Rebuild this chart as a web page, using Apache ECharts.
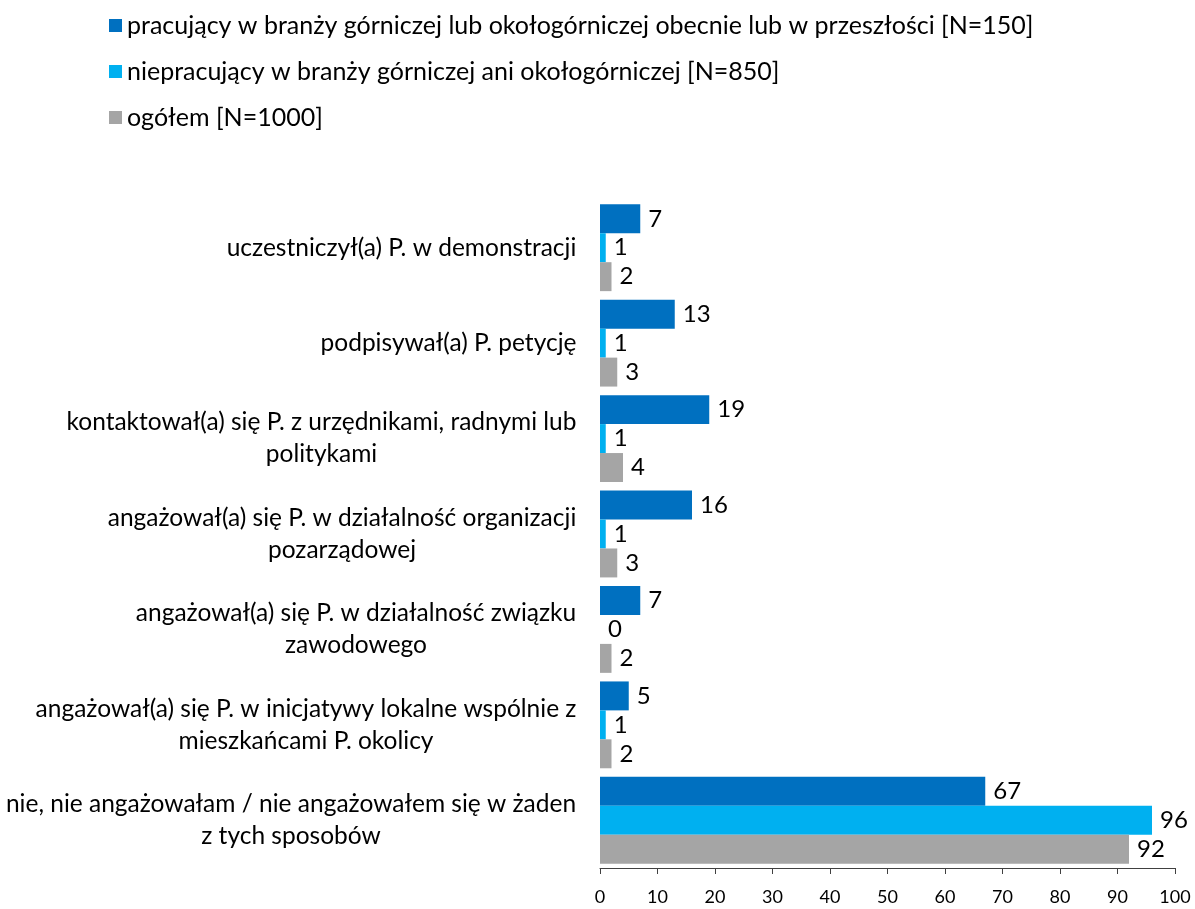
<!DOCTYPE html>
<html>
<head>
<meta charset="utf-8">
<script src="https://cdn.jsdelivr.net/npm/echarts@6/dist/echarts.min.js"></script>
<style>
  html, body { margin: 0; padding: 0; background: #fff; }
  #chart { width: 1195px; height: 909px; }
</style>
</head>
<body>
<div id="chart"></div>
<script>
// Forms of civic engagement, percentages by group
const categories = [
  'uczestniczył(a) P. w demonstracji',
  'podpisywał(a) P. petycję',
  'kontaktował(a) się P. z urzędnikami, radnymi lub\npolitykami',
  'angażował(a) się P. w działalność organizacji\npozarządowej',
  'angażował(a) się P. w działalność związku\nzawodowego',
  'angażował(a) się P. w inicjatywy lokalne wspólnie z\nmieszkańcami P. okolicy',
  'nie, nie angażowałam / nie angażowałem się w żaden\nz tych sposobów'
];
const seriesNames = [
  'pracujący w branży górniczej lub okołogórniczej obecnie lub w przeszłości [N=150]',
  'niepracujący w branży górniczej ani okołogórniczej [N=850]',
  'ogółem [N=1000]'
];
const miningWorkers = [7, 13, 19, 16, 7, 5, 67];
const nonMiningWorkers = [1, 1, 1, 1, 0, 1, 96];
const overall = [2, 3, 4, 3, 2, 2, 92];
const xTicks = [0, 10, 20, 30, 40, 50, 60, 70, 80, 90, 100];

const colors = ['#0070C0', '#00B0F0', '#A5A5A5'];
const FONT = 'Lato, "Open Sans", sans-serif';
const LABEL_SIZE = 24.5;

// Multi-line category labels: lines centred on each other, block right-aligned
const measureCtx = document.createElement('canvas').getContext('2d');
measureCtx.font = LABEL_SIZE + 'px ' + FONT;
const rich = {};
categories.forEach((c, i) => {
  const w = Math.max(...c.split('\n').map(l => measureCtx.measureText(l).width));
  rich['c' + i] = {
    width: Math.ceil(w) + 1,
    align: 'center',
    fontSize: LABEL_SIZE,
    lineHeight: 32,
    fontFamily: FONT,
    color: '#000'
  };
});

const chart = echarts.init(document.getElementById('chart'), null, { renderer: 'canvas' });

const valueLabel = {
  show: true,
  position: 'right',
  distance: 8,
  color: '#000',
  fontSize: 24,
  fontFamily: FONT
};

const dataSets = [miningWorkers, nonMiningWorkers, overall];

chart.setOption({
  animation: false,
  color: colors,
  legend: {
    orient: 'vertical',
    left: 104,
    top: 8,
    itemWidth: 13,
    itemHeight: 13,
    itemGap: 21,
    icon: 'rect',
    textStyle: { fontSize: 25, fontFamily: FONT, color: '#000', lineHeight: 24 },
    data: seriesNames
  },
  grid: { left: 600, right: 20, top: 200, bottom: 41, containLabel: false },
  xAxis: {
    type: 'value',
    min: xTicks[0],
    max: xTicks[xTicks.length - 1],
    interval: 10,
    axisLine: { show: true, lineStyle: { color: '#404040', width: 1 } },
    axisTick: { show: true, length: 6, lineStyle: { color: '#404040' } },
    splitLine: { show: false },
    axisLabel: { fontSize: 18, fontFamily: FONT, color: '#000', margin: 20 }
  },
  yAxis: {
    type: 'category',
    inverse: true,
    data: categories,
    axisLine: { show: false },
    axisTick: { show: false },
    axisLabel: {
      margin: 23,
      formatter: (value, idx) => value.split('\n').map(l => '{c' + idx + '|' + l + '}').join('\n'),
      rich: rich
    }
  },
  series: seriesNames.map((name, k) => ({
    name: name,
    type: 'bar',
    data: dataSets[k],
    barGap: '0%',
    barCategoryGap: '9%',
    itemStyle: { color: colors[k] },
    label: valueLabel
  }))
});
</script>
</body>
</html>
